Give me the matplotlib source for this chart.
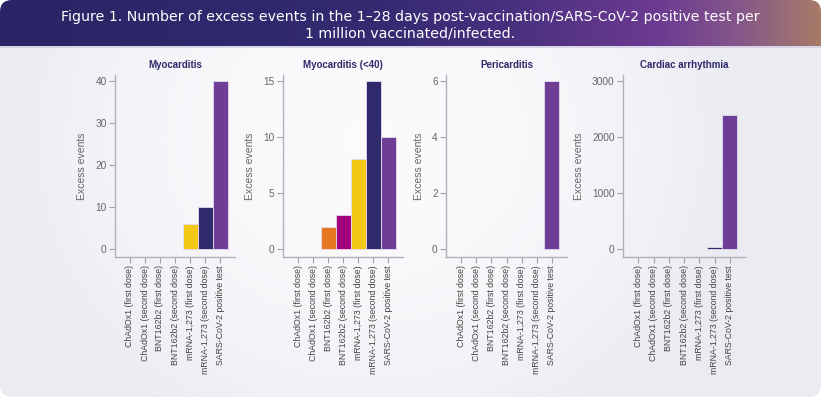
import numpy as np
import matplotlib
matplotlib.use('Agg')
import matplotlib.pyplot as plt
from matplotlib.patches import FancyBboxPatch
from matplotlib.colors import LinearSegmentedColormap

# ---------------- data ----------------
categories = ["ChAdOx1 (first dose)", "ChAdOx1 (second dose)",
              "BNT162b2 (first dose)", "BNT162b2 (second dose)",
              "mRNA-1,273 (first dose)", "mRNA-1,273 (second dose)",
              "SARS-CoV-2 positive test"]
bar_colors = ["#1f8a8a", "#4aa0c8", "#e87722", "#a3007d",
              "#f2c814", "#2e2a6b", "#6e3d96"]

panel_titles = ["Myocarditis", "Myocarditis (<40)", "Pericarditis", "Cardiac arrhythmia"]
myocarditis = [0, 0, 0, 0, 6, 10, 40]
myocarditis_u40 = [0, 0, 2, 3, 8, 15, 10]
pericarditis = [0, 0, 0, 0, 0, 0, 6]
arrhythmia = [0, 0, 0, 0, 0, 40, 2400]
panel_values = [myocarditis, myocarditis_u40, pericarditis, arrhythmia]
panel_yticks = [[0, 10, 20, 30, 40], [0, 5, 10, 15], [0, 2, 4, 6], [0, 1000, 2000, 3000]]

title = ("Figure 1. Number of excess events in the 1\u201328 days post-vaccination/SARS-CoV-2 positive test per\n"
         "1 million vaccinated/infected.")

# ---------------- figure ----------------
W, H = 821, 397
fig = plt.figure(figsize=(W / 100, H / 100), dpi=100, facecolor="white")

bg = fig.add_axes([0, 0, 1, 1], zorder=-10)
bg.set_xlim(0, W)
bg.set_ylim(H, 0)
bg.axis("off")

card = FancyBboxPatch((0, 0), W, H, boxstyle="round,pad=0,rounding_size=12",
                      facecolor="none", edgecolor="none", transform=bg.transData)
bg.add_patch(card)

# card light gradient
xx, yy = np.meshgrid(np.linspace(0, 1, 200), np.linspace(0, 1, 100))
light = np.clip(1 - ((xx - 0.45) ** 2 / 0.2 + (yy - 0.35) ** 2 / 0.7), 0, 1)
cmap_bg = LinearSegmentedColormap.from_list("bg", ["#ebebf2", "#fbfbfd"])
im = bg.imshow(light, extent=(0, W, H, 0), cmap=cmap_bg, aspect="auto",
               interpolation="bilinear", zorder=0)
im.set_clip_path(card)

# banner gradient
cmap_ban = LinearSegmentedColormap.from_list(
    "ban", [(0.0, "#2a2566"), (0.45, "#332a70"), (0.62, "#48307f"),
            (0.8, "#6c3a92"), (0.9, "#84568a"), (1.0, "#a57a68")])
grad = np.linspace(0, 1, 400)[None, :]
im2 = bg.imshow(grad, extent=(0, W, 46, 0), cmap=cmap_ban, aspect="auto",
                interpolation="bilinear", zorder=1)
im2.set_clip_path(card)
bg.plot([0, W], [46.5, 46.5], color="#d4d0e4", lw=1.2, zorder=2)

bg.text(W / 2, 25.5, title, ha="center", va="center", color="white",
        fontsize=10.2, family=["DejaVu Sans"],
        linespacing=1.2, zorder=3)

# ---------------- panels ----------------
panel_x = [(115, 235), (283, 403), (446, 567), (623, 745)]
ax_top, ax_bot = 75, 257
tick_font = ["Liberation Sans", "DejaVu Sans"]

for (x0, x1), ttl, vals, yt in zip(panel_x, panel_titles, panel_values, panel_yticks):
    ax = fig.add_axes([x0 / W, (H - ax_bot) / H, (x1 - x0) / W, (ax_bot - ax_top) / H])
    ax.set_facecolor("none")
    x = np.arange(len(categories))
    for xi, v, c in zip(x, vals, bar_colors):
        if v > 0:
            ax.bar(xi, v, width=1.0, color=c, edgecolor="#e4dcef", linewidth=0.6)
    T = yt[-1]
    ax.set_ylim(-8 / 168 * T, T + 6 / 168 * T)
    ax.set_xlim(-1, 7)
    ax.set_yticks(yt)
    ax.set_yticklabels([str(v) for v in yt], family=tick_font, fontsize=7.3, color="#666666")
    ax.set_xticks(x)
    ax.set_xticklabels(categories, rotation=90, family=tick_font, fontsize=6.3, color="#444444")
    for s in ["top", "right"]:
        ax.spines[s].set_visible(False)
    for s in ["left", "bottom"]:
        ax.spines[s].set_color("#b0b0b8")
        ax.spines[s].set_linewidth(1.0)
    ax.tick_params(axis="both", color="#a0a0a8", length=4, width=0.8, pad=2)
    ax.set_ylabel("Excess events", family=tick_font, fontsize=7.5, color="#666666", labelpad=6)
    ax.set_title(ttl, family=tick_font, fontsize=7, fontweight="bold", color="#2e2a6b", pad=5)

fig.savefig("out.png", dpi=100, facecolor="white")
